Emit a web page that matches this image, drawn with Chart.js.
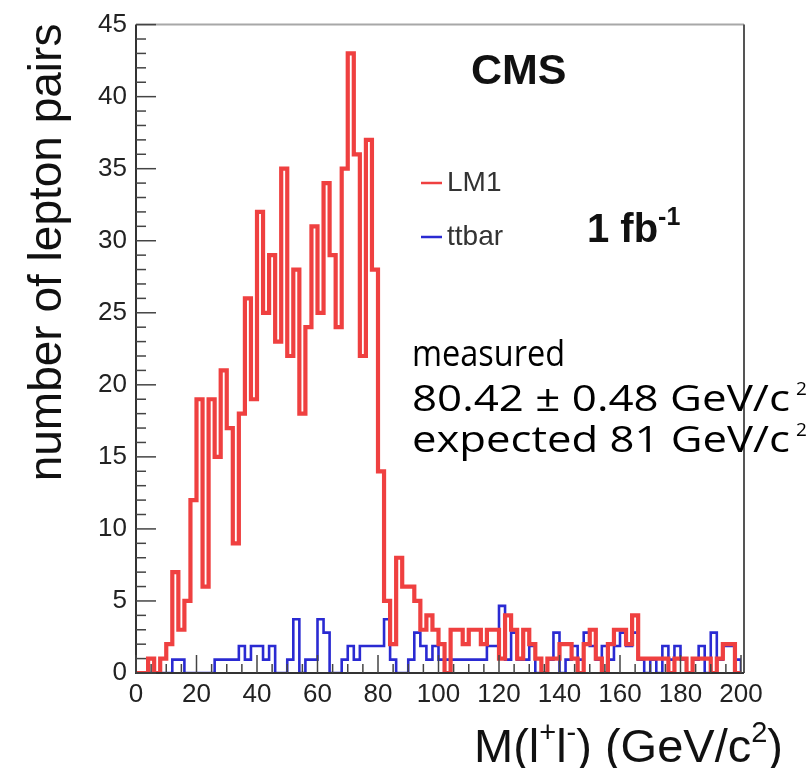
<!DOCTYPE html>
<html>
<head>
<meta charset="utf-8">
<script src="https://cdn.jsdelivr.net/npm/chart.js@4.4.1/dist/chart.umd.min.js"></script>
<style>
html,body{margin:0;padding:0;background:#fff;}
#wrap{width:808px;height:768px;}
</style>
</head>
<body>
<div id="wrap"><canvas id="hist_canvas" width="808" height="768"></canvas></div>
<script>
// 100 bins of 2 GeV/c2 between 0 and 200
var bin_low = 0;
var bin_width = 2;

var lm1_counts = [
	0, 0, 1, 0, 1, 2, 7, 3, 5, 12,
	19, 6, 19, 15, 21, 17, 9, 18, 26, 19,
	32, 25, 29, 23, 35, 22, 28, 18, 24, 31,
	25, 34, 29, 24, 35, 43, 36, 22, 37, 28,
	14, 5, 2, 8, 6, 6, 5, 3, 4, 3,
	2, 0, 3, 3, 2, 3, 3, 2, 3, 3,
	1, 4, 3, 1, 3, 2, 1, 0, 1, 1,
	2, 2, 1, 0, 2, 3, 1, 0, 2, 3,
	3, 2, 4, 1, 1, 1, 1, 1, 0, 1,
	1, 0, 1, 1, 1, 0, 1, 2, 2, 0
];

var ttbar_counts = [
	0, 0, 0, 0, 0, 0, 0.93, 0.93, 0, 0,
	0, 0, 0, 0.93, 0.93, 0.93, 0.93, 1.87, 0.93, 1.87,
	1.87, 0.93, 1.87, 0, 0, 0.93, 3.73, 0, 0.93, 0.93,
	3.73, 2.8, 0, 0, 0.93, 1.87, 0.93, 1.87, 1.87, 1.87,
	1.87, 3.73, 0.93, 0, 0, 0.93, 2.8, 1.87, 0.93, 1.87,
	0.93, 0.93, 0.93, 0.93, 0.93, 0.93, 0.93, 0.93, 1.87, 1.87,
	4.66, 0.93, 2.8, 0.93, 0.93, 1.87, 0, 0, 0.93, 2.8,
	0, 0.93, 1.87, 0.93, 2.8, 1.87, 0.93, 1.87, 0.93, 1.87,
	2.8, 1.87, 2.8, 0.93, 0, 0.93, 0, 1.87, 0.93, 1.87,
	0.93, 0, 0.93, 1.87, 0, 2.8, 0.93, 1.87, 1.87, 0.93
];

var x_tick_values = [0, 20, 40, 60, 80, 100, 120, 140, 160, 180, 200];
var y_tick_values = [0, 5, 10, 15, 20, 25, 30, 35, 40, 45];

var label_font = "'Liberation Sans', Arial, Helvetica, sans-serif";
var note_font = "'Comic Sans MS', 'Open Sans', sans-serif";

// histogram outline as points on the bin edges
function histPoints(counts){
	var pts = [{x: bin_low, y: 0}];
	for (var i = 0; i < counts.length; i++) {
		pts.push({x: bin_low + i * bin_width, y: counts[i]});
	}
	var x_end = bin_low + counts.length * bin_width;
	pts.push({x: x_end, y: counts[counts.length - 1]});
	pts.push({x: x_end, y: 0});
	return pts;
}

// text with superscripts, parts = [[text, isSup], ...]
function drawRich(ctx, parts, x, y, size, weight, family, align){
	var w = 0, i;
	for (i = 0; i < parts.length; i++) {
		ctx.font = weight + ' ' + (parts[i][1] ? Math.round(size * 0.62) : size) + 'px ' + family;
		w += ctx.measureText(parts[i][0]).width;
	}
	var cx = align === 'right' ? x - w : x;
	for (i = 0; i < parts.length; i++) {
		var sz = parts[i][1] ? Math.round(size * 0.62) : size;
		ctx.font = weight + ' ' + sz + 'px ' + family;
		ctx.fillText(parts[i][0], cx, parts[i][1] ? y - size * 0.42 : y);
		cx += ctx.measureText(parts[i][0]).width;
	}
}

var frame_plugin = {
	id: 'rootFrame',
	afterDraw: function(chart){
		var ctx = chart.ctx;
		var a = chart.chartArea;
		var xs = chart.scales.x, ys = chart.scales.y;
		ctx.save();

		// frame
		ctx.lineWidth = 2;
		ctx.strokeStyle = '#a8a8a8';
		ctx.beginPath();
		ctx.moveTo(a.left, a.top); ctx.lineTo(a.right + 3, a.top);
		ctx.stroke();
		ctx.strokeStyle = '#555';
		ctx.beginPath();
		ctx.moveTo(a.right + 3, a.top); ctx.lineTo(a.right + 3, a.bottom);
		ctx.stroke();
		ctx.strokeStyle = '#333';
		ctx.beginPath();
		ctx.moveTo(a.left, a.top); ctx.lineTo(a.left, a.bottom); ctx.lineTo(a.right + 3, a.bottom);
		ctx.stroke();

		// inside ticks
		ctx.lineWidth = 1.5;
		ctx.strokeStyle = '#444';
		var v, p;
		for (v = ys.min; v <= ys.max; v += 1) {
			p = ys.getPixelForValue(v);
			ctx.beginPath();
			ctx.moveTo(a.left, p);
			ctx.lineTo(a.left + (v % 5 === 0 ? 20 : 10), p);
			ctx.stroke();
		}
		for (v = xs.min; v <= xs.max; v += 5) {
			p = xs.getPixelForValue(v);
			ctx.beginPath();
			ctx.moveTo(p, a.bottom);
			ctx.lineTo(p, a.bottom - (v % 20 === 0 ? 18 : 9));
			ctx.stroke();
		}

		// axis titles
		ctx.fillStyle = '#111';
		ctx.textBaseline = 'alphabetic';
		drawRich(ctx, [['M(l', false], ['+', true], ['l', false], ['-', true], [') (GeV/c', false], ['2', true], [')', false]],
			783, 762, 47, 'normal', label_font, 'right');

		ctx.save();
		ctx.translate(61, a.top - 1);
		ctx.rotate(-Math.PI / 2);
		ctx.font = '46px ' + label_font;
		ctx.textAlign = 'right';
		ctx.fillText('number of lepton pairs', 0, 0);
		ctx.restore();

		// CMS and luminosity
		ctx.textAlign = 'left';
		ctx.font = 'bold 43px ' + label_font;
		ctx.fillText('CMS', 471, 84);
		drawRich(ctx, [['1 fb', false], ['-1', true]], 587, 242, 40, 'bold', label_font, 'left');

		// legend
		var leg = [[chart.data.datasets[0], 183], [chart.data.datasets[2], 237]];
		for (var k = 0; k < leg.length; k++) {
			ctx.strokeStyle = leg[k][0].borderColor;
			ctx.lineWidth = 2.5;
			ctx.beginPath();
			ctx.moveTo(421, leg[k][1]);
			ctx.lineTo(442, leg[k][1]);
			ctx.stroke();
			ctx.fillStyle = '#333';
			ctx.font = '28px ' + label_font;
			ctx.textBaseline = 'middle';
			ctx.fillText(leg[k][0].label, 447, leg[k][1]);
		}

		// measurement note, each line stretched to its width in the original
		ctx.fillStyle = '#000';
		ctx.textBaseline = 'alphabetic';
		var notes = [['measured', 366, 153, false], ['80.42 \u00b1 0.48 GeV/c', 411, 378, true], ['expected 81 GeV/c', 452, 378, true]];
		for (var n = 0; n < notes.length; n++) {
			ctx.font = '37px ' + note_font;
			var w = ctx.measureText(notes[n][0]).width;
			var sx = notes[n][2] / w;
			ctx.save();
			ctx.translate(412, notes[n][1]);
			ctx.scale(sx, 1);
			ctx.fillText(notes[n][0], 0, 0);
			ctx.restore();
			if (notes[n][3]) {
				ctx.font = '19px ' + note_font;
				ctx.fillText('2', 412 + notes[n][2] + 6, notes[n][1] - 16);
			}
		}
		ctx.restore();
	}
};

var hist_canvas = document.getElementById('hist_canvas');
var lm1_points = histPoints(lm1_counts);
var ttbar_points = histPoints(ttbar_counts);

var hist_chart = new Chart(hist_canvas, {
	type: 'line',
	data: {
		datasets: [
			{
				label: 'LM1',
				data: lm1_points,
				borderColor: '#ef4040',
				borderWidth: 4.2,
				stepped: 'before',
				pointRadius: 0,
				fill: false
			},
			{
				label: 'LM1 inner',
				data: lm1_points,
				borderColor: '#fde8e8',
				borderWidth: 1.8,
				stepped: 'before',
				pointRadius: 0,
				fill: false
			},
			{
				label: 'ttbar',
				data: ttbar_points,
				borderColor: '#2a2ad2',
				borderWidth: 2.6,
				stepped: 'before',
				pointRadius: 0,
				fill: false
			}
		]
	},
	options: {
		responsive: false,
		animation: false,
		events: [],
		layout: {padding: {top: 23, right: 67, left: 0, bottom: 0}},
		plugins: {legend: {display: false}, tooltip: {enabled: false}},
		scales: {
			x: {
				type: 'linear',
				min: 0,
				max: 200,
				afterBuildTicks: function(s){ s.ticks = x_tick_values.map(function(v){ return {value: v}; }); },
				afterFit: function(s){ s.height = 95; },
				grid: {display: false, drawTicks: false},
				border: {display: false},
				ticks: {font: {family: label_font, size: 26}, color: '#222', padding: 6, maxRotation: 0, autoSkip: false}
			},
			y: {
				type: 'linear',
				min: 0,
				max: 45,
				afterBuildTicks: function(s){ s.ticks = y_tick_values.map(function(v){ return {value: v}; }); },
				afterFit: function(s){ s.width = 136; },
				grid: {display: false, drawTicks: false},
				border: {display: false},
				ticks: {font: {family: label_font, size: 26}, color: '#222', padding: 9, autoSkip: false}
			}
		}
	},
	plugins: [frame_plugin]
});
</script>
</body>
</html>
